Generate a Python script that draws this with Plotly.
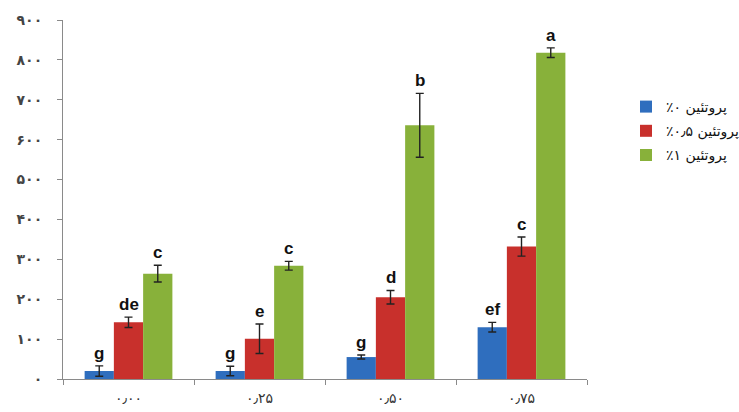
import plotly.graph_objects as go

LRM = "\u200e"
categories = ["۰٫۰۰", "۰٫۲۵", "۰٫۵۰", "۰٫۷۵"]
series_names = [LRM + "٪۰ پروتئین", LRM + "٪۰٫۵ پروتئین", LRM + "٪۱ پروتئین"]
values_p0 = [20, 20, 55, 130]
values_p05 = [142, 101, 205, 332]
values_p1 = [264, 284, 636, 818]
errors_p0 = [13, 12, 5, 12]
errors_p05 = [13, 37, 17, 24]
errors_p1 = [21, 11, 80, 12]
letters_p0 = ["g", "g", "g", "ef"]
letters_p05 = ["de", "e", "d", "c"]
letters_p1 = ["c", "c", "b", "a"]
colors = ["#2F6EBE", "#C8302C", "#88B13A"]
y_tickvals = [0, 100, 200, 300, 400, 500, 600, 700, 800, 900]
y_ticktext = ["۰", "۱۰۰", "۲۰۰", "۳۰۰", "۴۰۰", "۵۰۰", "۶۰۰", "۷۰۰", "۸۰۰", "۹۰۰"]

all_vals = [values_p0, values_p05, values_p1]
all_errs = [errors_p0, errors_p05, errors_p1]
all_letters = [letters_p0, letters_p05, letters_p1]

fig = go.Figure()
for i in range(3):
    fig.add_trace(go.Bar(
        x=categories, y=all_vals[i], name=series_names[i],
        marker=dict(color=colors[i], line=dict(width=0)),
        error_y=dict(type="data", array=all_errs[i], visible=True,
                     color="#222222", thickness=1.4, width=4),
        legendgroup=str(i),
    ))

L, R, T, B = 63, 152, 20, 33
W, H = 739, 412
bargap = 0.33
cat_px = (W - L - R) / len(categories)
bar_px = cat_px * (1 - bargap) / 3

annotations = []
for i in range(3):
    for j, c in enumerate(categories):
        annotations.append(dict(
            x=c, y=all_vals[i][j] + all_errs[i][j], xref="x", yref="y",
            text="<b>%s</b>" % all_letters[i][j], showarrow=False,
            xshift=(i - 1) * bar_px, yanchor="bottom", yshift=1,
            font=dict(family="Arial", size=17, color="#111111"),
        ))

fig.update_layout(
    width=W, height=H,
    margin=dict(l=L, r=R, t=T, b=B, autoexpand=False),
    paper_bgcolor="white", plot_bgcolor="white",
    barmode="group", bargap=bargap, bargroupgap=0,
    showlegend=True,
    legend=dict(xref="container", yref="container", x=626 / W, y=1 - 91 / H,
                xanchor="left", yanchor="top",
                font=dict(family="DejaVu Sans", size=14, color="#111111"),
                tracegroupgap=3, traceorder="grouped",
                bgcolor="rgba(0,0,0,0)"),
    annotations=annotations,
    font=dict(family="DejaVu Sans"),
)
fig.update_xaxes(
    type="category", showline=True, linecolor="#8A8A8A", linewidth=1,
    ticks="outside", tickson="boundaries", ticklen=5, tickcolor="#8A8A8A",
    tickfont=dict(size=14, color="#333333"), ticklabelstandoff=6,
    showgrid=False, zeroline=False, automargin=False,
)
fig.update_yaxes(
    range=[0, 900], tickvals=y_tickvals, ticktext=y_ticktext,
    showline=True, linecolor="#8A8A8A", linewidth=1,
    ticks="outside", ticklen=5, tickcolor="#8A8A8A",
    tickfont=dict(size=14, color="#444444", weight="bold"), ticklabelstandoff=12,
    showgrid=False, zeroline=False, automargin=False,
)

fig.write_html("out.html")
